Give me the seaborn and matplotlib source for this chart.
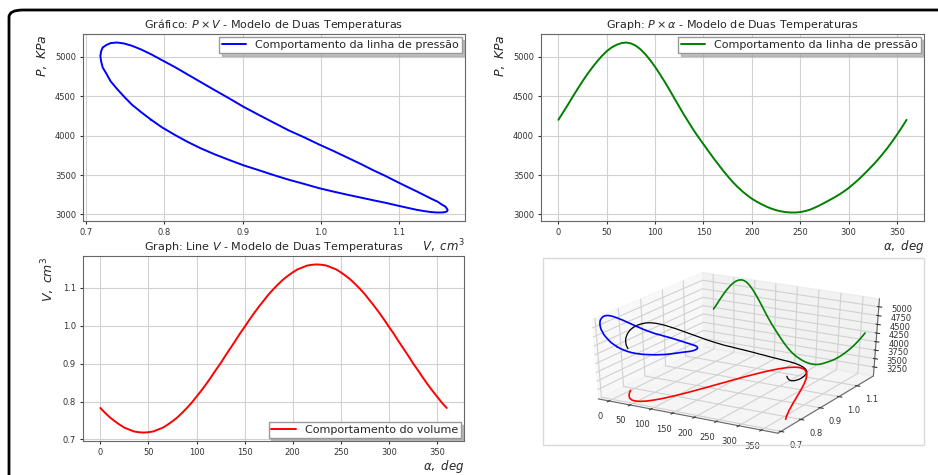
import numpy as np
import pandas as pd
import matplotlib
matplotlib.use("Agg")
import matplotlib.pyplot as plt
from matplotlib.patches import FancyBboxPatch, Rectangle
import seaborn as sns

# Modelo de duas temperaturas: angulo da manivela (graus), pressao (KPa) e volume (cm3)
alpha = [0, 5, 10, 15, 20, 25, 30, 35, 40, 45, 50, 55, 60, 65, 70, 75, 80, 85, 90, 95,
         100, 105, 110, 115, 120, 125, 130, 135, 140, 145, 150, 155, 160, 165, 170, 175,
         180, 185, 190, 195, 200, 205, 210, 215, 220, 225, 230, 235, 240, 245, 250, 255,
         260, 265, 270, 275, 280, 285, 290, 295, 300, 305, 310, 315, 320, 325, 330, 335,
         340, 345, 350, 355, 360]
pressure = [4200, 4298, 4395, 4497, 4595, 4690, 4780, 4863, 4940, 5010, 5070, 5117, 5150,
            5172, 5180, 5168, 5140, 5092, 5030, 4955, 4870, 4778, 4680, 4577, 4470, 4365,
            4260, 4162, 4065, 3976, 3890, 3805, 3720, 3640, 3560, 3486, 3415, 3352, 3295,
            3245, 3200, 3163, 3130, 3100, 3075, 3055, 3040, 3030, 3025, 3025, 3030, 3043,
            3060, 3086, 3115, 3147, 3180, 3214, 3250, 3290, 3335, 3386, 3440, 3498, 3560,
            3623, 3690, 3763, 3840, 3923, 4010, 4103, 4200]
volume = [0.783, 0.770, 0.758, 0.748, 0.739, 0.731, 0.726, 0.721, 0.719, 0.718, 0.719, 0.721,
          0.726, 0.731, 0.739, 0.748, 0.758, 0.770, 0.783, 0.797, 0.813, 0.829, 0.846, 0.864,
          0.883, 0.901, 0.921, 0.940, 0.959, 0.979, 0.997, 1.016, 1.034, 1.051, 1.067, 1.083,
          1.097, 1.110, 1.122, 1.132, 1.141, 1.149, 1.154, 1.159, 1.161, 1.162, 1.161, 1.159,
          1.154, 1.149, 1.141, 1.132, 1.122, 1.110, 1.097, 1.083, 1.067, 1.051, 1.034, 1.016,
          0.997, 0.979, 0.959, 0.940, 0.921, 0.901, 0.883, 0.864, 0.846, 0.829, 0.813, 0.797,
          0.783]

df = pd.DataFrame({'alpha': alpha, 'P': pressure, 'V': volume})

sns.set_style("whitegrid", {"axes.edgecolor": "0.4", "grid.color": "0.82",
                            "xtick.bottom": True, "ytick.left": True,
                            "xtick.color": "0.2", "ytick.color": "0.2"})
plt.rcParams['font.family'] = ['DejaVu Sans']
plt.rcParams['xtick.labelsize'] = 6
plt.rcParams['ytick.labelsize'] = 6
plt.rcParams['xtick.major.size'] = 2.5
plt.rcParams['ytick.major.size'] = 2.5
plt.rcParams['xtick.major.pad'] = 2.5
plt.rcParams['ytick.major.pad'] = 2.5

W, H = 938, 475
fig = plt.figure(figsize=(9.38, 4.75), dpi=100)

def rect(x0, y0, x1, y1):
    return [x0 / W, 1 - y1 / H, (x1 - x0) / W, (y1 - y0) / H]

# moldura arredondada
fig.patches.append(FancyBboxPatch((9 / W, -0.05), 1.06, 1 - 10 / H + 0.05,
                                  boxstyle="round,pad=0,rounding_size=0.015",
                                  transform=fig.transFigure, fill=False, ec='black', lw=2))

title_kw = dict(fontsize=8, pad=4)
leg_kw = dict(fontsize=8, shadow={'color': '0.6', 'alpha': 0.6}, frameon=True, fancybox=False,
              edgecolor='0.6', handlelength=2.2, borderpad=0.25, borderaxespad=0.3)
xlab_kw = dict(loc='right', fontsize=8.5, labelpad=0.5)

# P x V
ax1 = fig.add_axes(rect(83, 34, 465, 221))
sns.lineplot(data=df, x='V', y='P', sort=False, estimator=None, color='blue', lw=1.4,
             label='Comportamento da linha de pressão', ax=ax1)
ax1.set_title('Gráfico: $P \\times V$ - Modelo de Duas Temperaturas', **title_kw)
ax1.set_xlabel('$V,\\ cm^3$', **xlab_kw)
ax1.set_ylabel('$P,\\ KPa$', loc='top', fontsize=9)
ax1.legend(loc='upper right', **leg_kw)

# P x alpha
ax2 = fig.add_axes(rect(541, 34, 924, 221))
sns.lineplot(data=df, x='alpha', y='P', color='green', lw=1.4,
             label='Comportamento da linha de pressão', ax=ax2)
ax2.set_title('Graph: $P \\times \\alpha$ - Modelo de Duas Temperaturas', **title_kw)
ax2.set_xlabel('$\\alpha,\\ deg$', **xlab_kw)
ax2.set_ylabel('$P,\\ KPa$', loc='top', fontsize=9)
ax2.legend(loc='upper right', **leg_kw)

# V x alpha
ax3 = fig.add_axes(rect(83, 256, 464, 441))
sns.lineplot(data=df, x='alpha', y='V', color='red', lw=1.4,
             label='Comportamento do volume', ax=ax3)
ax3.set_title('Graph: Line $V$ - Modelo de Duas Temperaturas', **title_kw)
ax3.set_xlabel('$\\alpha,\\ deg$', **xlab_kw)
ax3.set_ylabel('$V,\\ cm^3$', loc='top', fontsize=9)
ax3.legend(loc='lower right', **leg_kw)

# 3D
fig.patches.append(Rectangle((543 / W, 1 - 445 / H), 381 / W, 187 / H, transform=fig.transFigure,
                             fill=False, ec='0.85', lw=1))
ax4 = fig.add_axes(rect(574, 258, 894, 445), projection='3d')
ax4.apply_aspect = lambda position=None: None  # deixa o cubo esticado na horizontal
ax4.set_facecolor('none')
ax4.plot(df['alpha'], df['V'], df['P'], color='black', lw=0.9)
xl, yl, zl = ax4.get_xlim(), ax4.get_ylim(), ax4.get_zlim()
ax4.plot(df['alpha'], df['V'], zs=zl[0], zdir='z', color='red', lw=1.2)
ax4.plot(df['alpha'], df['P'], zs=yl[1], zdir='y', color='green', lw=1.2)
ax4.plot(df['V'], df['P'], zs=xl[0], zdir='x', color='blue', lw=1.2)
ax4.set_xlim(xl)
ax4.set_ylim(yl)
ax4.set_zlim(zl)
ax4.set_xticks([0, 50, 100, 150, 200, 250, 300, 350])
ax4.set_yticks([0.7, 0.8, 0.9, 1.0, 1.1])
ax4.set_zticks([3250, 3500, 3750, 4000, 4250, 4500, 4750, 5000])
ax4.tick_params(labelsize=6, pad=0)

fig.savefig('out.png', dpi=100)
